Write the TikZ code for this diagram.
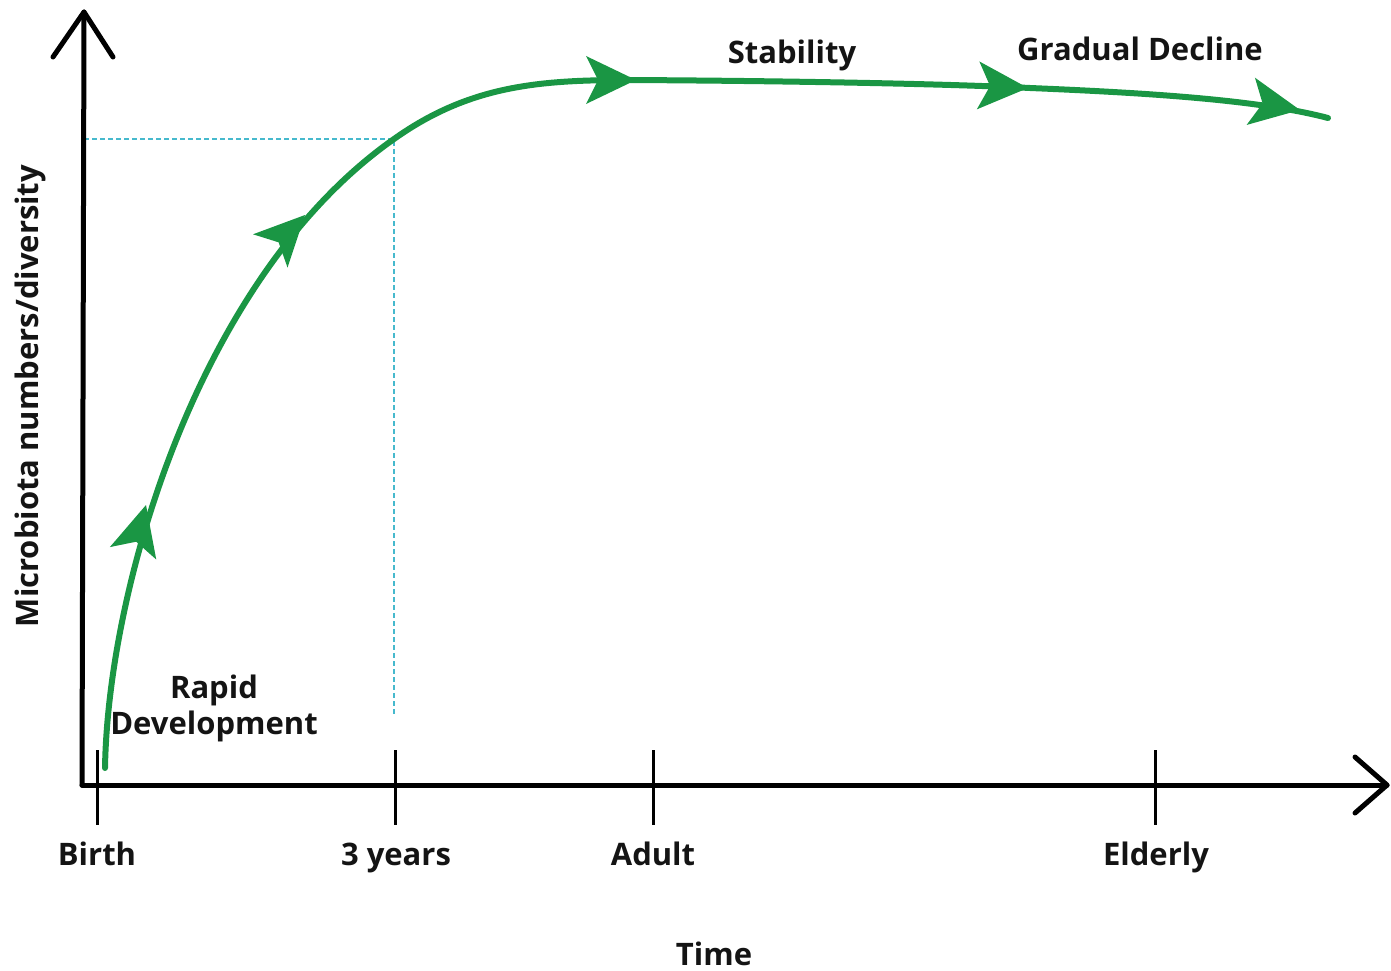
\documentclass[tikz,border=0pt]{standalone}
\usepackage{fontspec}
\setmainfont{Open Sans}
\usetikzlibrary{calc}
\definecolor{curvegreen}{RGB}{26,150,68}
\definecolor{dashcyan}{RGB}{70,185,205}
\tikzset{
  axis/.style={line width=5pt, black, line cap=round, line join=round},
  tick/.style={line width=3pt, black},
  guide/.style={line width=1.3pt, dashcyan, dash pattern=on 5pt off 3pt},
  growth/.style={line width=6pt, curvegreen, line cap=round},
  lbl/.style={font=\bfseries\fontsize{31}{36}\selectfont, text=black!92, inner sep=0pt, align=center},
}
\newcommand{\garrowhead}[3]{%
  \begin{scope}[shift={(#1,#2)}, rotate=#3]
    \fill[curvegreen] (0,0) -- (-50,24) -- (-38,0) -- (-50,-24) -- cycle;
  \end{scope}}
\begin{document}
\begin{tikzpicture}[x=1pt,y=-1pt]
\useasboundingbox (0,0) rectangle (1391,971);
% guides
\coordinate (g0) at (84,139);
\coordinate (g1) at (394,139);
\coordinate (g2) at (394,715);
\draw[guide] (g0) -- (g1) -- (g2);
% axes
\coordinate (o) at (82,785);
\coordinate (ytop) at (84,12);
\coordinate (xend) at (1387,785);
\draw[axis] (o) -- (ytop);
\draw[axis] (53,57) -- (ytop) -- (113,57);
\draw[axis] (o) -- (xend);
\draw[axis] (1355,757) -- (xend) -- (1355,813);
% ticks
\foreach \x in {97,395,653,1155} \draw[tick] (\x,750) -- (\x,825);
% curve
\coordinate (c0) at (105,768);
\coordinate (c1) at (394,139);
\coordinate (c2) at (630,80);
\coordinate (c3) at (1030,88);
\coordinate (c4) at (1328,118);
\draw[growth] (c0) .. controls (108,585) and (200,275) .. (c1)
  .. controls (470,85) and (540,80) .. (c2)
  .. controls (800,81) and (950,84) .. (c3)
  .. controls (1150,93) and (1260,100) .. (c4);
\garrowhead{146}{505}{75}
\garrowhead{305}{215}{46}
\garrowhead{636}{80}{0}
\garrowhead{1028}{88}{-3}
\garrowhead{1300}{110}{-10}
% labels
\node[lbl, anchor=base] (birth) at (97,865) {Birth};
\node[lbl, anchor=base] (three) at (396,865) {3 years};
\node[lbl, anchor=base] (adult) at (653,865) {Adult};
\node[lbl, anchor=base] (elderly) at (1156,865) {Elderly};
\node[lbl, anchor=base] (time) at (714,965) {Time};
\node[lbl, rotate=90] (ylab) at (30,396) {Microbiota numbers/diversity};
\node[lbl, anchor=base] (rapid) at (214,698) {Rapid};
\node[lbl, anchor=base] (dev) at (214,734) {Development};
\node[lbl, anchor=base] (stab) at (792,64) {Stability};
\node[lbl, anchor=base] (grad) at (1140,61) {Gradual Decline};
\end{tikzpicture}
\end{document}
